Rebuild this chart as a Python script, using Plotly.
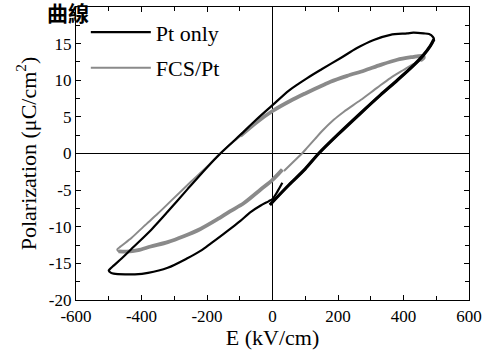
import plotly.graph_objects as go

# ---- data ----
pt_E = [-8, 50, 100, 141, 200, 269, 330, 381, 430, 460, 482, 493, 490, 478, 462, 430,
        411, 360, 309, 258, 207, 150, 106, 50, 0, -50, -98, -159, -200, -260, -321,
        -370, -423, -460, -485, -497, -500, -493, -485, -450, -420, -380, -320, -260,
        -220, -189, -150, -118, -98, -67, -36, -11, 0, 15, 30]
pt_P = [-7.0, -4.3, -2.1, 0.0, 2.6, 5.5, 8.0, 10.0, 12.0, 13.4, 14.7, 15.6, 15.9, 16.3,
        16.4, 16.5, 16.4, 16.2, 15.5, 14.4, 13.0, 11.5, 10.3, 8.6, 6.6, 4.6, 2.55, 0.0,
        -1.9, -4.9, -8.0, -10.4, -12.7, -14.3, -15.3, -15.8, -16.0, -16.3, -16.4, -16.5,
        -16.5, -16.3, -15.6, -14.3, -13.3, -12.3, -11.0, -9.9, -9.2, -8.0, -7.1, -6.5,
        -6.2, -5.2, -4.0]

fcs_E = [35, 60, 90, 106, 130, 150, 187, 218, 269, 320, 360, 400, 430, 452, 462, 460,
         445, 431, 381, 330, 279, 228, 177, 157, 100, 55, 0, -50, -98, -138, -160, -200,
         -250, -306, -350, -393, -430, -464, -474, -470, -445, -410, -372, -320, -271,
         -220, -169, -130, -88, -37, 0, 30]
fcs_P = [-2.4, -1.3, 0.0, 0.8, 2.0, 3.0, 4.6, 5.7, 7.3, 9.0, 10.3, 11.4, 12.2, 12.7,
         13.1, 13.3, 13.3, 13.2, 12.8, 12.1, 11.3, 10.6, 9.8, 9.4, 8.2, 7.2, 5.8, 4.2,
         2.4, 0.9, 0.0, -1.8, -3.9, -6.3, -8.2, -9.95, -11.5, -12.7, -13.1, -13.35, -13.4,
         -13.2, -12.7, -12.1, -11.3, -10.3, -9.0, -7.9, -6.8, -4.95, -3.6, -2.2]

chart_title = "曲線"
series_names = ["Pt only", "FCS/Pt"]
x_tick_vals = [-600, -400, -200, 0, 200, 400, 600]
x_tick_text = ["-600", "-400", "-200", "0", "200", "400", "600"]
y_tick_vals = [-20, -15, -10, -5, 0, 5, 10, 15]
y_tick_text = ["-20", "-15", "-10", "-5", "0", "5", "10", "15"]

# index ranges of the doubly traced (thicker) parts
pt_thick = (0, 12)
fcs_thick_a = (13, 29)
fcs_thick_b = (39, len(fcs_E))

BLACK = "#000000"
GRAY = "#8a8a8a"
SERIF = "Liberation Serif"

fig = go.Figure()

smooth = dict(shape="spline", smoothing=0.8)
fig.add_trace(go.Scatter(x=fcs_E, y=fcs_P, mode="lines", name=series_names[1],
                         legendgroup="fcs", legendrank=2,
                         line=dict(color=GRAY, width=2, **smooth)))
for a, b in (fcs_thick_a, fcs_thick_b):
    fig.add_trace(go.Scatter(x=fcs_E[a:b], y=fcs_P[a:b], mode="lines", showlegend=False,
                             legendgroup="fcs", hoverinfo="skip",
                             line=dict(color=GRAY, width=3.8, **smooth)))
fig.add_trace(go.Scatter(x=pt_E, y=pt_P, mode="lines", name=series_names[0],
                         legendgroup="pt", legendrank=1,
                         line=dict(color=BLACK, width=2.2, **smooth)))
fig.add_trace(go.Scatter(x=pt_E[pt_thick[0]:pt_thick[1]], y=pt_P[pt_thick[0]:pt_thick[1]],
                         mode="lines", showlegend=False, legendgroup="pt", hoverinfo="skip",
                         line=dict(color=BLACK, width=3.2, **smooth)))


def axis_style():
    return dict(
        showline=True, linecolor=BLACK, linewidth=1.2, mirror="allticks",
        ticks="inside", ticklen=5, tickcolor=BLACK, tickwidth=1,
        showgrid=False, zeroline=True, zerolinecolor=BLACK, zerolinewidth=1,
        tickfont=dict(family=SERIF, size=17, color=BLACK),
        automargin=False,
    )


PLOT_W, PLOT_H = 393, 293
fig.update_layout(
    width=489, height=351,
    margin=dict(l=76, r=20, t=7, b=51),
    paper_bgcolor="white", plot_bgcolor="white",
    font=dict(family=SERIF, size=17, color=BLACK),
    xaxis=dict(range=[-600, 600], tickmode="array", tickvals=x_tick_vals, ticktext=x_tick_text,
               minor=dict(dtick=100, tick0=0, ticks="inside", ticklen=4, tickcolor=BLACK),
               title=dict(text="E (kV/cm)", font=dict(family=SERIF, size=22, color=BLACK),
                          standoff=2),
               **axis_style()),
    yaxis=dict(range=[-20, 20], tickmode="array", tickvals=y_tick_vals, ticktext=y_tick_text,
               minor=dict(dtick=2.5, tick0=0, ticks="inside", ticklen=4, tickcolor=BLACK),
               title=dict(text="Polarization (μC/cm<sup>2</sup>)",
                          font=dict(family=SERIF, size=22, color=BLACK), standoff=6),
               **axis_style()),
    legend=dict(x=0.025, y=0.985, xanchor="left", yanchor="top",
                font=dict(family=SERIF, size=22, color=BLACK),
                bgcolor="rgba(0,0,0,0)", itemwidth=60, tracegroupgap=4),
    showlegend=True,
    annotations=[dict(text=chart_title, showarrow=False,
                      xref="paper", yref="paper",
                      x=(67.5 - 76) / PLOT_W, y=(PLOT_H - 5) / PLOT_H,
                      xanchor="center", yanchor="middle",
                      font=dict(family="Noto Sans CJK TC", size=21, color=BLACK,
                                weight="bold"))],
)

fig.write_html("out.html", config={"displayModeBar": False},
               post_script="document.body.style.margin='0';document.body.style.padding='0';")
